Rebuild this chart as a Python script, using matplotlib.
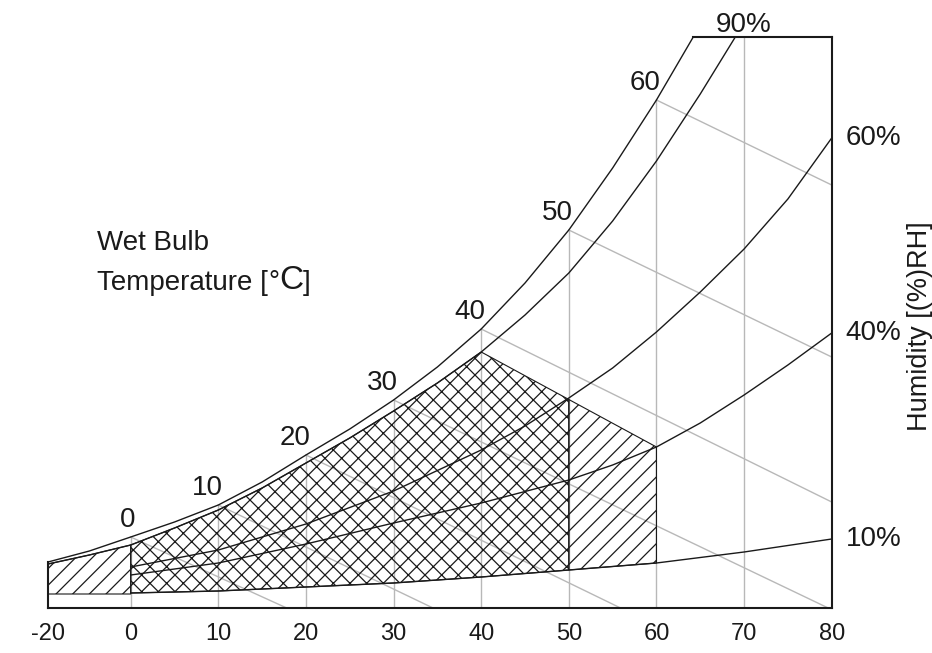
import matplotlib.pyplot as plt
import numpy as np

plt.rcParams['font.family'] = ['Liberation Sans', 'DejaVu Sans']
plt.rcParams['hatch.linewidth'] = 0.9

## Axis
temp_ticks = [-20, 0, 10, 20, 30, 40, 50, 60, 70, 80]
grid_temps = [0, 10, 20, 30, 40, 50, 60, 70]
top = 571  # height of the frame, same relative unit as the curves

## Curves (dry bulb temp, relative height)
sat_T = [-20, -10, 0, 5, 10, 15, 20, 25, 30, 35, 40, 45, 50, 55, 60, 64.2]
sat_h = [46, 57, 71, 86, 103, 126, 153, 179, 208, 241, 279, 325, 378, 440, 508, 571]

rh90_T = [-20, -10, 0, 5, 10, 15, 20, 25, 30, 35, 40, 45, 50, 55, 60, 65, 69]
rh90_h = [44, 53, 63, 80, 98, 120, 145, 170, 197, 225, 256, 293, 335, 387, 447, 514, 571]

rh60_T = [0, 10, 20, 30, 40, 45, 50, 55, 60, 65, 70, 75, 80]
rh60_h = [41, 58, 84, 117, 158, 182, 210, 240, 276, 316, 359, 409, 470]

rh40_T = [0, 10, 20, 30, 40, 50, 55, 60, 65, 70, 75, 80]
rh40_h = [33, 45, 64, 85, 105, 128, 143, 161, 185, 213, 243, 275]

rh10_T = [0, 10, 20, 30, 40, 50, 60, 70, 80]
rh10_h = [15, 17, 21, 25, 31, 38, 45, 56, 69]

rh_labels = ['90%', '60%', '40%', '10%']

## Wet bulb lines
wb_temps = [0, 10, 20, 30, 40, 50, 60]
wb_end_T = [17.8, 34.5, 55.9, 79.6, 80, 80, 80]
wb_end_h = [0, 0, 0, 0, 106, 251, 423]

## Operating range
lim_T = [40, 60]
lim_h = [256, 161]
low_T = [-20, 0]
low_h = [14, 14]


def fwd(t):
    t = np.asarray(t, dtype=float)
    return np.where(t < 0, t * 0.472, t)


def inv(u):
    u = np.asarray(u, dtype=float)
    return np.where(u < 0, u / 0.472, u)


def sat(t):
    return np.interp(t, sat_T, sat_h, right=top)


fig = plt.figure(figsize=(9.32, 6.53), dpi=100)
ax = fig.add_axes([48 / 932, 45 / 653, 783.7 / 932, 571 / 653])
ax.set_xscale('function', functions=(fwd, inv))
ax.set_xlim(-20, 80)
ax.set_ylim(0, top)

gray = '#b8b8b8'
ink = '#1a1a1a'

# dry bulb verticals
for t in grid_temps:
    ax.plot([t, t], [0, sat(t)], color=gray, lw=1.0, zorder=1)

# wet bulb lines
for tw, et, eh in zip(wb_temps, wb_end_T, wb_end_h):
    ax.plot([tw, et], [sat(tw), eh], color=gray, lw=1.0, zorder=1)
    ax.annotate(str(tw), xy=(tw, sat(tw)), xytext=(3, 7), textcoords='offset points',
                ha='right', va='baseline', fontsize=20, color=ink)

# hatched areas
xa = np.array([-20, -10, 0])
ax.fill_between(xa, np.interp(xa, low_T, low_h), np.interp(xa, rh90_T, rh90_h),
                facecolor='none', edgecolor=ink, hatch='//', lw=0.8, zorder=2)

xb = np.array([0, 5, 10, 15, 20, 25, 30, 35, 40, 50])
top_b = np.where(xb <= 40, np.interp(xb, rh90_T, rh90_h), np.interp(xb, lim_T, lim_h))
ax.fill_between(xb, np.interp(xb, rh10_T, rh10_h), top_b,
                facecolor='none', edgecolor=ink, hatch='xx', lw=0.8, zorder=2)

xc = np.array([50, 60])
ax.fill_between(xc, np.interp(xc, rh10_T, rh10_h), np.interp(xc, lim_T, lim_h),
                facecolor='none', edgecolor=ink, hatch='//', lw=0.8, zorder=2)

# humidity curves
ax.plot(sat_T, sat_h, color=ink, lw=1.0, zorder=3)
curves = [(rh90_T, rh90_h), (rh60_T, rh60_h), (rh40_T, rh40_h), (rh10_T, rh10_h)]
for (ts, hs), lab in zip(curves, rh_labels):
    ax.plot(ts, hs, color=ink, lw=1.0, zorder=3)
    if lab == '90%':
        ax.annotate(lab, xy=(ts[-1], hs[-1]), xytext=(6, 3.5), textcoords='offset points',
                    ha='center', va='baseline', fontsize=20, color=ink)
    else:
        ax.annotate(lab, xy=(ts[-1], hs[-1]), xytext=(10, 0), textcoords='offset points',
                    ha='left', va='center', fontsize=20, color=ink)

# frame pieces
ax.plot([sat_T[-1], 80], [top, top], color=ink, lw=1.5, clip_on=False, zorder=4)
ax.plot([-20, -20], [0, sat_h[0]], color=ink, lw=1.5, clip_on=False, zorder=4)
for s in ['top', 'left']:
    ax.spines[s].set_visible(False)
for s in ['right', 'bottom']:
    ax.spines[s].set_linewidth(1.5)
    ax.spines[s].set_color(ink)

ax.set_xticks(temp_ticks)
ax.set_xticklabels([str(t) for t in temp_ticks])
ax.xaxis.set_minor_locator(plt.NullLocator())
ax.tick_params(axis='x', length=0, pad=11, labelsize=17, labelcolor=ink)
ax.set_yticks([])

# text
fig.text(97 / 932, 1 - 250 / 653, 'Wet Bulb', fontsize=20, color=ink, va='baseline')
t1 = fig.text(97 / 932, 1 - 290 / 653, 'Temperature [', fontsize=20, color=ink, va='baseline')
t2 = ax.annotate('°', xy=(1, 0), xycoords=t1, va='bottom', fontsize=20, color=ink)
t3 = ax.annotate('C', xy=(1, 0), xycoords=t2, va='bottom', fontsize=24, color=ink)
ax.annotate(']', xy=(1, 0), xycoords=t3, va='bottom', fontsize=20, color=ink)
fig.text(920 / 932, 1 - 326 / 653, 'Humidity [(%)RH]', rotation=90, ha='center',
         va='center', fontsize=19.5, color=ink)

fig.savefig('out.png', dpi=100)
